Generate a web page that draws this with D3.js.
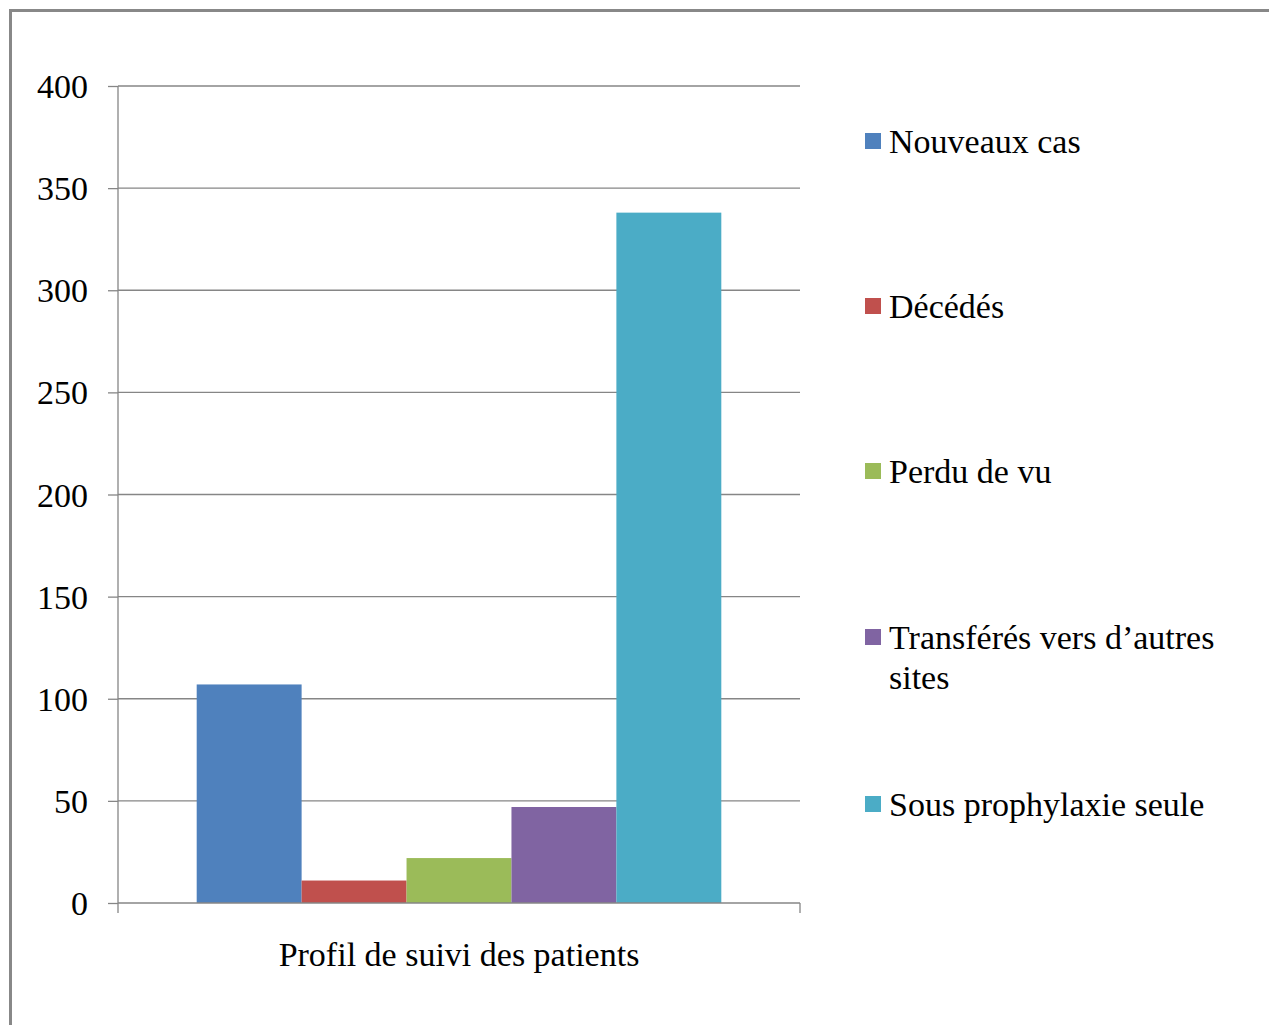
<!DOCTYPE html>
<html><head><meta charset="utf-8">
<script src="https://cdn.jsdelivr.net/npm/d3@7"></script>
<style>
html,body{margin:0;padding:0;background:#fff;}
svg{display:block;}
text{font-family:"Liberation Serif","Times New Roman",serif;fill:#000;}
</style></head>
<body>
<svg id="c" width="1269" height="1025"></svg>
<script>
const categories = ["Profil de suivi des patients"];
const seriesNames = ["Nouveaux cas", "Décédés", "Perdu de vu", "Transférés vers d\u2019autres sites", "Sous prophylaxie seule"];
const seriesValues = [107, 11, 22, 47, 338];
const seriesColors = ["#4f81bd", "#c0504d", "#9bbb59", "#8064a2", "#4bacc6"];
const yTicks = [0, 50, 100, 150, 200, 250, 300, 350, 400];

const svg = d3.select("#c");
// frame
svg.append("path").attr("d", "M10.5,1025 V10.5 H1269").attr("fill", "none").attr("stroke", "#888").attr("stroke-width", 3);

const L = 118, R = 800, T = 86, B = 903;
const y = d3.scaleLinear().domain([0, 400]).range([B, T]);
const x0 = d3.scaleBand().domain(categories).range([L, R]).paddingInner(0).paddingOuter(0);
// gap width 150%: group = 5 bars + 1.5 bar
const bw = x0.bandwidth() / 6.5;
const x1 = d3.scaleBand().domain(seriesNames).range([0.75 * bw, x0.bandwidth() - 0.75 * bw]);

// gridlines
svg.append("g").selectAll("line").data(yTicks.filter(d => d > 0)).join("line")
  .attr("x1", L).attr("x2", R).attr("y1", d => y(d)).attr("y2", d => y(d))
  .attr("stroke", "#868686").attr("stroke-width", 1.3);

// bars
svg.append("g").selectAll("rect").data(seriesNames).join("rect")
  .attr("x", (d) => x0(categories[0]) + x1(d))
  .attr("width", x1.bandwidth())
  .attr("y", (d, i) => y(seriesValues[i]))
  .attr("height", (d, i) => y(0) - y(seriesValues[i]))
  .attr("fill", (d, i) => seriesColors[i]);

// y axis
const yAxis = d3.axisLeft(y).tickValues(yTicks).tickSize(10).tickPadding(20);
const gy = svg.append("g").attr("transform", `translate(${L},0)`).call(yAxis);
gy.select(".domain").attr("stroke", "#868686").attr("stroke-width", 1.3).attr("d", `M0,${T}V${B}`);
gy.selectAll(".tick line").attr("stroke", "#868686").attr("stroke-width", 1.3);
gy.selectAll(".tick text").attr("font-size", 34).attr("font-family", "Liberation Serif").attr("fill", "#000").attr("dy", "0.34em");

// x axis
const gx = svg.append("g").attr("transform", `translate(0,${B})`);
gx.append("line").attr("x1", L).attr("x2", R).attr("stroke", "#868686").attr("stroke-width", 1.3);
[L, R].forEach(v => gx.append("line").attr("x1", v).attr("x2", v).attr("y1", 0).attr("y2", 10).attr("stroke", "#868686").attr("stroke-width", 1.3));
gx.append("text").attr("x", x0(categories[0]) + x0.bandwidth() / 2).attr("y", 63)
  .attr("text-anchor", "middle").attr("font-size", 34).text(categories[0]);

// legend
const legendY = [141, 306, 471, 637, 804];
const lg = svg.append("g");
seriesNames.forEach((name, i) => {
  const g = lg.append("g").attr("transform", `translate(865,${legendY[i]})`);
  g.append("rect").attr("x", 0).attr("y", -8).attr("width", 16).attr("height", 16).attr("fill", seriesColors[i]);
  const lines = name === "Transférés vers d\u2019autres sites" ? ["Transférés vers d\u2019autres", "sites"] : [name];
  lines.forEach((ln, j) => {
    g.append("text").attr("x", 24).attr("y", j * 40).attr("dy", "0.34em").attr("font-size", 34).text(ln);
  });
});
</script>
</body></html>
